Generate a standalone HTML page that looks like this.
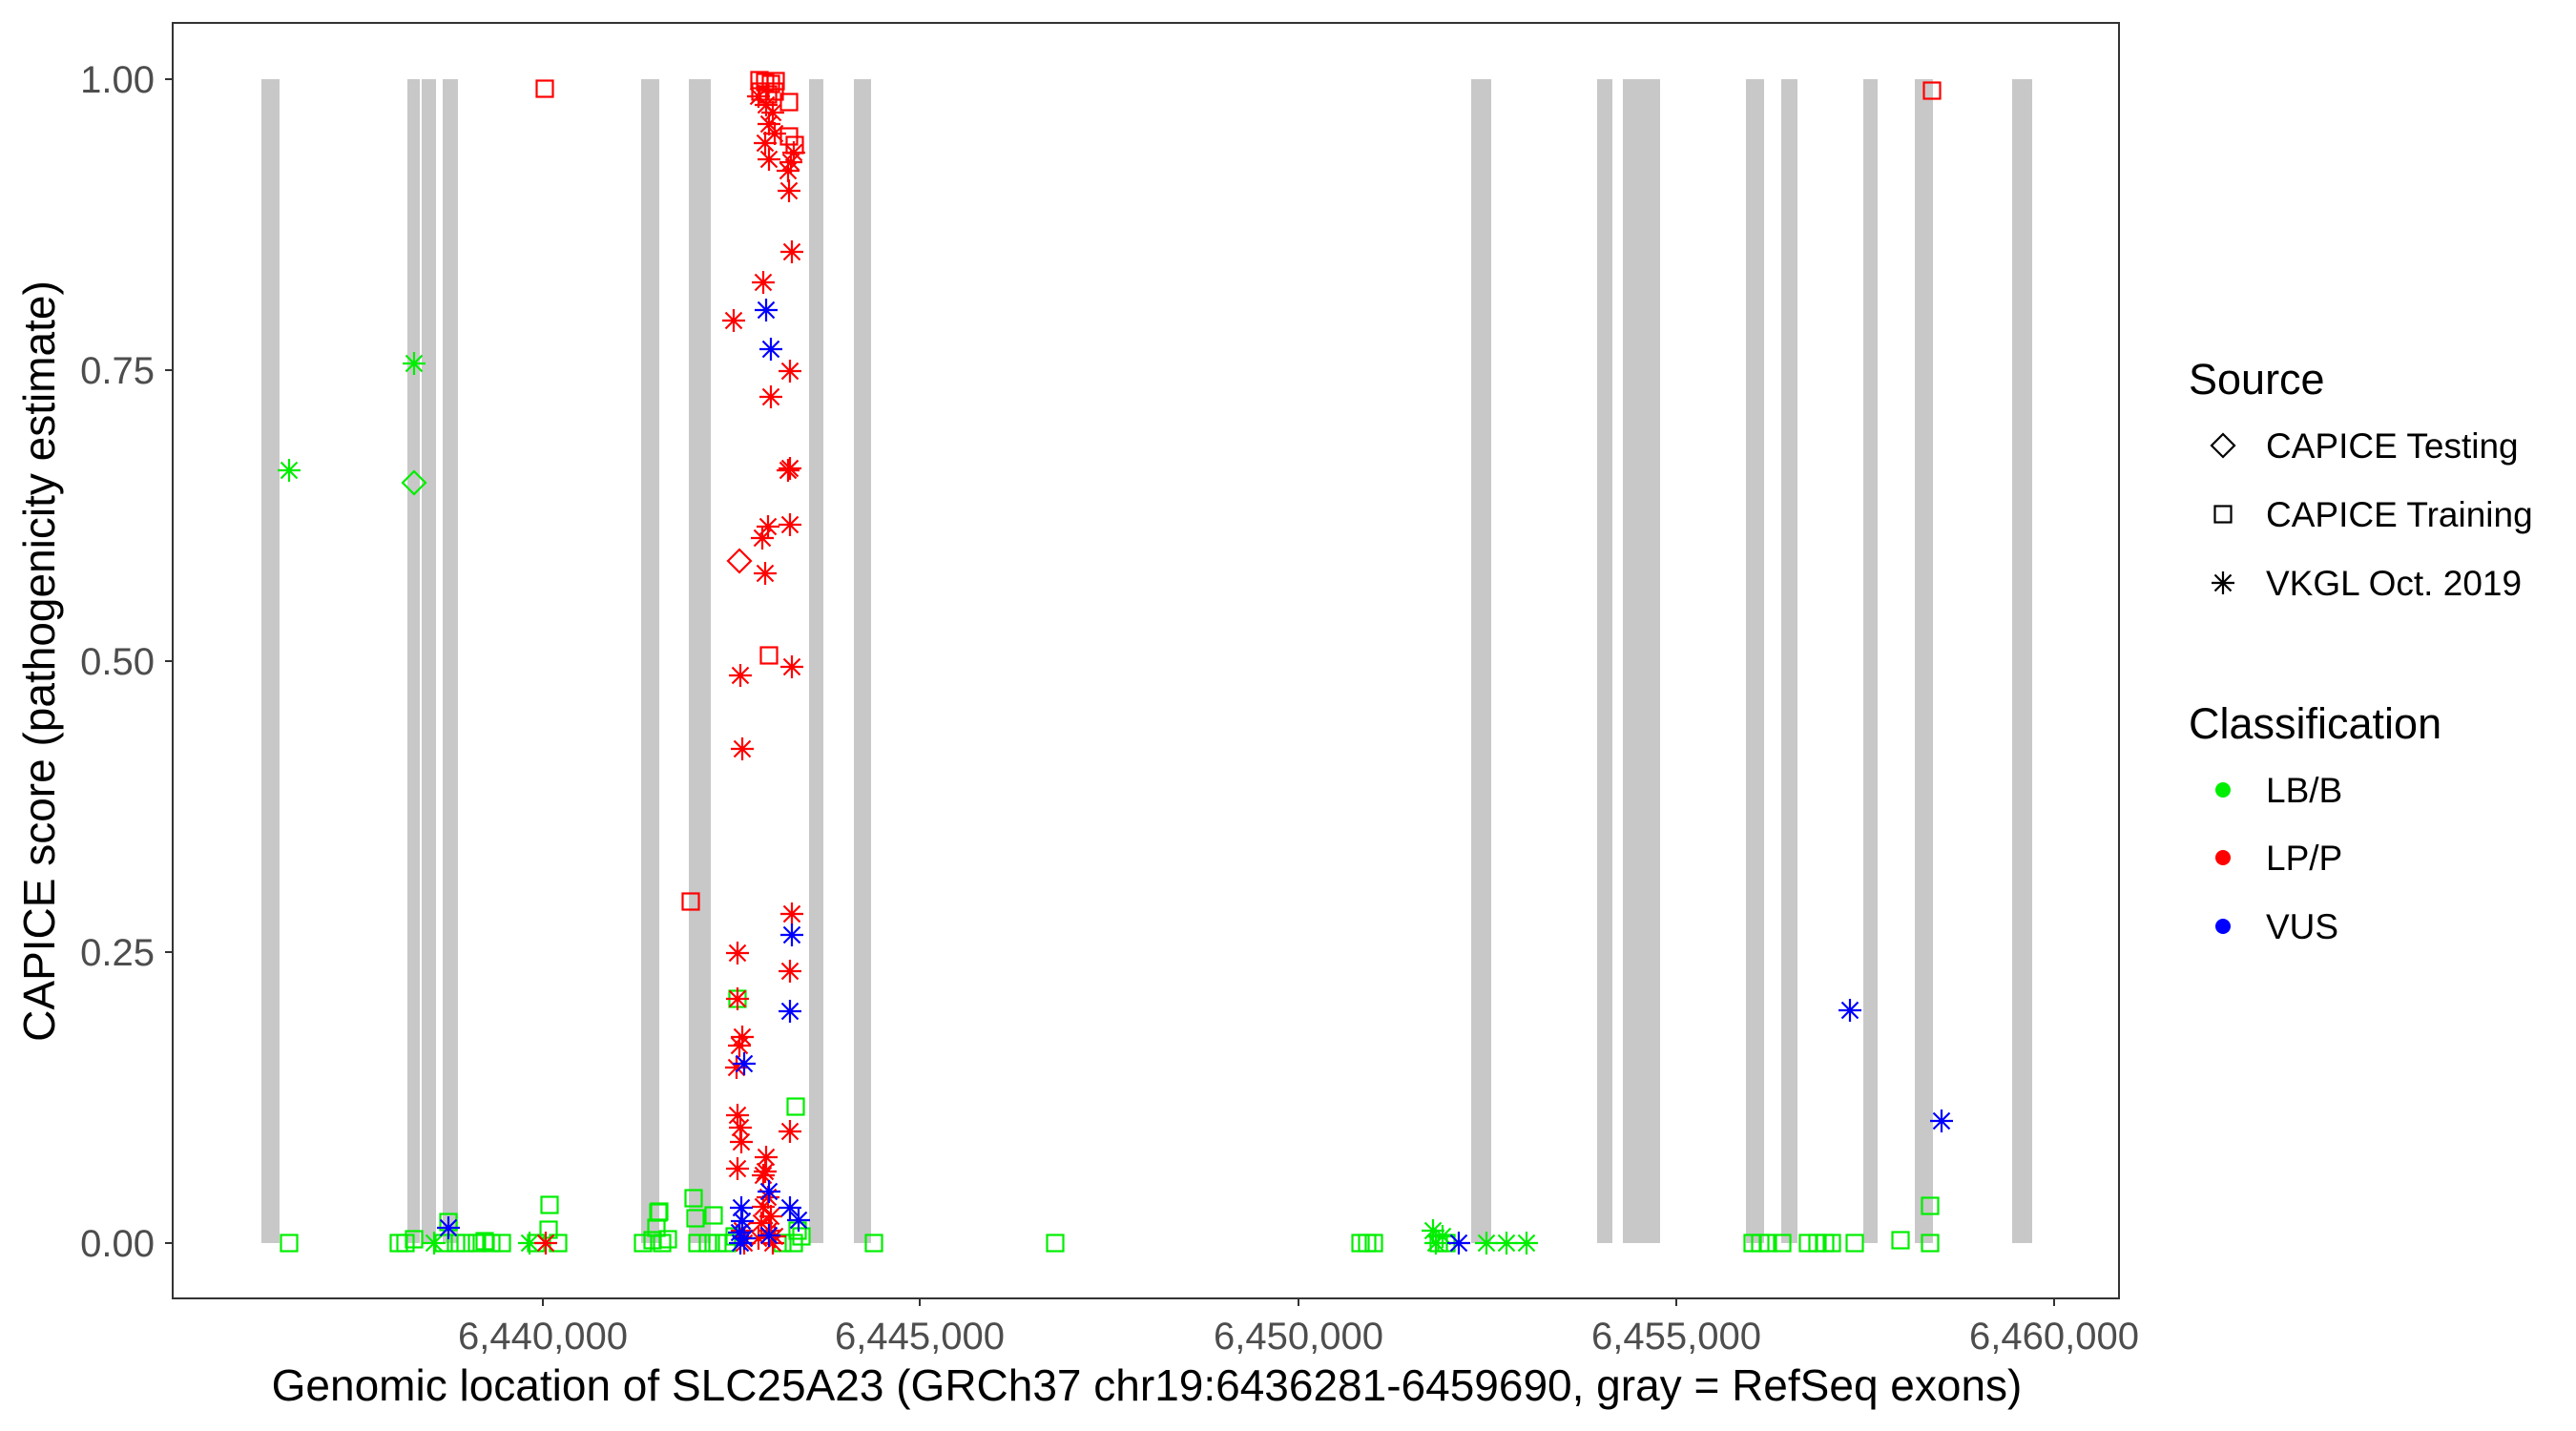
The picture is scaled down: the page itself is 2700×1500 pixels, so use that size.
<!DOCTYPE html>
<html><head><meta charset="utf-8"><style>
body{margin:0;background:#fff;}
svg{display:block;font-family:"Liberation Sans",sans-serif;}
</style></head><body>
<svg width="2700" height="1500" viewBox="0 0 2700 1500" xmlns="http://www.w3.org/2000/svg">
<defs>
<g id="a" stroke="currentColor" stroke-width="2.2" fill="none"><line x1="-12" y1="0" x2="12" y2="0"/><line x1="0" y1="-12" x2="0" y2="12"/><line x1="-8.5" y1="-8.5" x2="8.5" y2="8.5"/><line x1="-8.5" y1="8.5" x2="8.5" y2="-8.5"/></g>
<rect id="s" x="-8.5" y="-8.5" width="17" height="17" stroke="currentColor" stroke-width="2.2" fill="none"/>
<path id="d" d="M0,-12 L12,0 L0,12 L-12,0 Z" stroke="currentColor" stroke-width="2.2" fill="none"/>
</defs>
<rect x="0" y="0" width="2700" height="1500" fill="#fff"/>
<g fill="#c8c8c8">
<rect x="274" y="83" width="19" height="1220"/>
<rect x="427" y="83" width="13" height="1220"/>
<rect x="442" y="83" width="15" height="1220"/>
<rect x="464" y="83" width="16" height="1220"/>
<rect x="672" y="83" width="19" height="1220"/>
<rect x="722" y="83" width="23" height="1220"/>
<rect x="848" y="83" width="15" height="1220"/>
<rect x="895" y="83" width="18" height="1220"/>
<rect x="1542" y="83" width="21" height="1220"/>
<rect x="1674" y="83" width="16" height="1220"/>
<rect x="1701" y="83" width="39" height="1220"/>
<rect x="1830" y="83" width="19" height="1220"/>
<rect x="1867" y="83" width="17" height="1220"/>
<rect x="1953" y="83" width="15" height="1220"/>
<rect x="2007" y="83" width="19" height="1220"/>
<rect x="2109" y="83" width="21" height="1220"/>
</g>
<g style="color:#00ee00">
<use href="#a" x="303" y="493"/><use href="#a" x="434" y="381"/><use href="#d" x="434" y="506"/>
<use href="#s" x="303" y="1303"/><use href="#s" x="418" y="1303"/><use href="#s" x="425" y="1303"/><use href="#s" x="434" y="1299"/>
<use href="#s" x="470" y="1281"/><use href="#a" x="455" y="1303"/><use href="#s" x="465" y="1303"/><use href="#s" x="478" y="1303"/>
<use href="#s" x="488" y="1303"/><use href="#s" x="500" y="1303"/><use href="#s" x="508" y="1301"/><use href="#s" x="515" y="1303"/><use href="#s" x="526" y="1303"/>
<use href="#a" x="555" y="1303"/><use href="#s" x="576" y="1263"/><use href="#s" x="575" y="1289"/><use href="#s" x="585" y="1303"/><use href="#s" x="562" y="1303"/>
<use href="#s" x="674" y="1303"/><use href="#s" x="690" y="1271"/><use href="#s" x="688" y="1287"/><use href="#s" x="684" y="1300"/><use href="#s" x="694" y="1303"/><use href="#s" x="700" y="1299"/>
<use href="#s" x="691" y="1270"/><use href="#s" x="727" y="1256"/><use href="#s" x="729" y="1277"/><use href="#s" x="748" y="1274"/>
<use href="#s" x="731" y="1303"/><use href="#s" x="742" y="1303"/><use href="#s" x="752" y="1303"/>
<use href="#s" x="762" y="1303"/><use href="#s" x="770" y="1296"/><use href="#s" x="773" y="1047"/><use href="#s" x="834" y="1160"/>
<use href="#s" x="820" y="1303"/><use href="#s" x="832" y="1303"/><use href="#s" x="840" y="1296"/><use href="#s" x="836" y="1290"/>
<use href="#s" x="916" y="1303"/><use href="#s" x="1106" y="1303"/>
<use href="#s" x="1426" y="1303"/><use href="#s" x="1433" y="1303"/><use href="#s" x="1440" y="1303"/>
<use href="#a" x="1502" y="1290"/><use href="#a" x="1505" y="1303"/><use href="#s" x="1508" y="1303"/><use href="#s" x="1516" y="1303"/><use href="#a" x="1512" y="1296"/>
<use href="#a" x="1558" y="1303"/><use href="#a" x="1579" y="1303"/><use href="#a" x="1600" y="1303"/>
<use href="#s" x="1837" y="1303"/><use href="#s" x="1845" y="1303"/><use href="#s" x="1853" y="1303"/><use href="#s" x="1868" y="1303"/>
<use href="#s" x="1895" y="1303"/><use href="#s" x="1905" y="1303"/><use href="#s" x="1913" y="1303"/><use href="#s" x="1920" y="1303"/><use href="#s" x="1944" y="1303"/>
<use href="#s" x="1992" y="1300"/><use href="#s" x="2023" y="1303"/><use href="#s" x="2023" y="1264"/>
</g>
<g style="color:#ff0000">
<use href="#s" x="571" y="93"/><use href="#a" x="572" y="1303"/><use href="#s" x="724" y="945"/><use href="#s" x="2025" y="95"/>
<use href="#s" x="796" y="84"/><use href="#s" x="802" y="86"/><use href="#s" x="808" y="88"/><use href="#s" x="813" y="85"/><use href="#s" x="797" y="96"/><use href="#s" x="805" y="99"/><use href="#s" x="812" y="96"/>
<use href="#a" x="795" y="101"/><use href="#a" x="803" y="110"/><use href="#a" x="810" y="118"/><use href="#a" x="806" y="130"/><use href="#a" x="812" y="140"/><use href="#a" x="802" y="150"/>
<use href="#s" x="827" y="107"/><use href="#s" x="827" y="143"/><use href="#s" x="833" y="152"/>
<use href="#a" x="806" y="167"/><use href="#a" x="832" y="160"/><use href="#a" x="829" y="170"/><use href="#a" x="826" y="179"/><use href="#a" x="827" y="200"/>
<use href="#a" x="830" y="264"/><use href="#a" x="800" y="296"/><use href="#a" x="769" y="336"/><use href="#a" x="828" y="389"/><use href="#a" x="808" y="416"/>
<use href="#a" x="828" y="491"/><use href="#a" x="826" y="493"/><use href="#a" x="805" y="552"/><use href="#a" x="799" y="564"/><use href="#a" x="828" y="550"/>
<use href="#d" x="775" y="588"/><use href="#a" x="802" y="601"/>
<use href="#s" x="806" y="687"/><use href="#a" x="830" y="699"/><use href="#a" x="776" y="708"/><use href="#a" x="778" y="785"/>
<use href="#a" x="830" y="958"/><use href="#a" x="773" y="999"/><use href="#a" x="828" y="1018"/><use href="#a" x="773" y="1047"/>
<use href="#a" x="778" y="1087"/><use href="#a" x="775" y="1096"/><use href="#a" x="772" y="1119"/>
<use href="#a" x="773" y="1169"/><use href="#a" x="776" y="1182"/><use href="#a" x="777" y="1197"/><use href="#a" x="828" y="1186"/>
<use href="#a" x="773" y="1225"/><use href="#a" x="803" y="1213"/><use href="#a" x="802" y="1228"/><use href="#a" x="800" y="1232"/>
<use href="#a" x="805" y="1255"/><use href="#a" x="800" y="1265"/><use href="#a" x="808" y="1275"/><use href="#a" x="798" y="1282"/><use href="#a" x="806" y="1290"/>
<use href="#a" x="778" y="1290"/><use href="#a" x="812" y="1296"/><use href="#a" x="810" y="1303"/><use href="#a" x="780" y="1303"/><use href="#a" x="795" y="1298"/>
</g>
<g style="color:#0000ff">
<use href="#a" x="470" y="1287"/>
<use href="#a" x="803" y="325"/><use href="#a" x="808" y="366"/><use href="#a" x="830" y="980"/><use href="#a" x="828" y="1060"/><use href="#a" x="780" y="1115"/>
<use href="#a" x="806" y="1249"/><use href="#a" x="777" y="1266"/><use href="#a" x="828" y="1266"/><use href="#a" x="837" y="1279"/>
<use href="#a" x="778" y="1280"/><use href="#a" x="775" y="1292"/><use href="#a" x="780" y="1298"/><use href="#a" x="776" y="1303"/><use href="#a" x="806" y="1295"/>
<use href="#a" x="1529" y="1303"/><use href="#a" x="1939" y="1059"/><use href="#a" x="2035" y="1175"/>
</g>
<rect x="181" y="24" width="2040" height="1337" fill="none" stroke="#333" stroke-width="2"/>
<g stroke="#333" stroke-width="2">
<line x1="173" y1="83" x2="181" y2="83"/><line x1="173" y1="388" x2="181" y2="388"/><line x1="173" y1="693" x2="181" y2="693"/><line x1="173" y1="998" x2="181" y2="998"/><line x1="173" y1="1303" x2="181" y2="1303"/>
<line x1="569" y1="1361" x2="569" y2="1369"/><line x1="964" y1="1361" x2="964" y2="1369"/><line x1="1361" y1="1361" x2="1361" y2="1369"/><line x1="1757" y1="1361" x2="1757" y2="1369"/><line x1="2153" y1="1361" x2="2153" y2="1369"/>
</g>
<g font-size="40" fill="#4d4d4d" text-anchor="end">
<text x="162" y="97">1.00</text><text x="162" y="402">0.75</text><text x="162" y="707">0.50</text><text x="162" y="1012">0.25</text><text x="162" y="1317">0.00</text>
</g>
<g font-size="40" fill="#4d4d4d" text-anchor="middle">
<text x="569" y="1414">6,440,000</text><text x="964" y="1414">6,445,000</text><text x="1361" y="1414">6,450,000</text><text x="1757" y="1414">6,455,000</text><text x="2153" y="1414">6,460,000</text>
</g>
<text x="1202" y="1468" font-size="46" text-anchor="middle" fill="#000">Genomic location of SLC25A23 (GRCh37 chr19:6436281-6459690, gray = RefSeq exons)</text>
<text transform="translate(57,693) rotate(-90)" font-size="46" text-anchor="middle" fill="#000">CAPICE score (pathogenicity estimate)</text>
<text x="2294" y="413" font-size="45" fill="#000">Source</text>
<use href="#d" x="2330" y="467" style="color:#000"/>
<use href="#s" x="2330" y="539" style="color:#000"/>
<use href="#a" x="2330" y="611" style="color:#000"/>
<g font-size="37" fill="#000">
<text x="2375" y="480">CAPICE Testing</text><text x="2375" y="552">CAPICE Training</text><text x="2375" y="624">VKGL Oct. 2019</text>
</g>
<text x="2294" y="774" font-size="45" fill="#000">Classification</text>
<circle cx="2330" cy="828" r="8" fill="#00ee00"/><circle cx="2330" cy="899" r="8" fill="#ff0000"/><circle cx="2330" cy="971" r="8" fill="#0000ff"/>
<g font-size="37" fill="#000">
<text x="2375" y="841">LB/B</text><text x="2375" y="912">LP/P</text><text x="2375" y="984">VUS</text>
</g>
</svg>
</body></html>
